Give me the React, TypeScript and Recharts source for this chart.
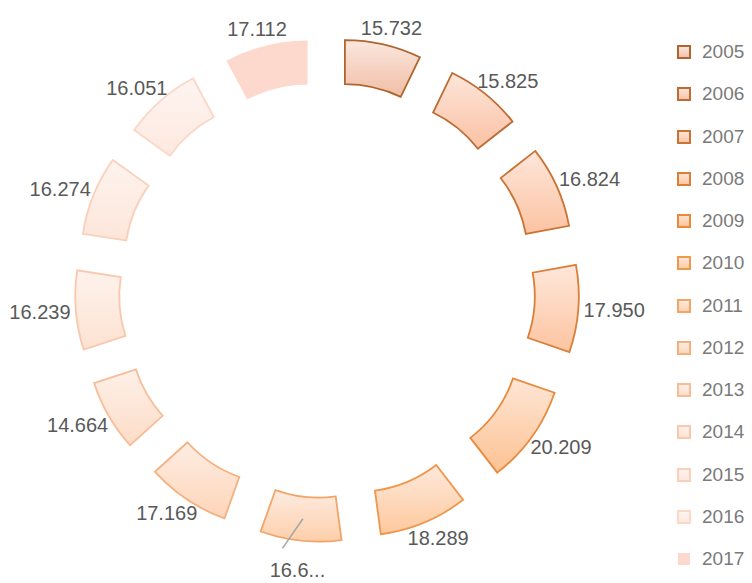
import React from "react";
import { PieChart, Pie, Cell, Sector, Legend } from "recharts";

const years = ["2005", "2006", "2007", "2008", "2009", "2010", "2011", "2012", "2013", "2014", "2015", "2016", "2017"];
const values = [15.732, 15.825, 16.824, 17.95, 20.209, 18.289, 16.65, 17.169, 14.664, 16.239, 16.274, 16.051, 17.112];
// label text that Excel cut short
const shortLabels: Record<number, string> = { 6: "16.6..." };

const strokes = ["#b0652e", "#bd6c33", "#c97434", "#d97f38", "#e8893c", "#f0974e", "#f3a468", "#f5b080", "#f7bd98", "#f9c8ad", "#f9d0ba", "#fad7c6", "none"];
const topFills = ["#fbe7de", "#fde6da", "#fee6da", "#fee7da", "#fee6d6", "#fee9dc", "#feebe0", "#feede4", "#fef0e8", "#fef2ec", "#fef3ee", "#fef4f0", "#fcd9cc"];
const bottomFills = ["#f0bea6", "#fac1a3", "#fcc3a2", "#fdc4a0", "#fdc293", "#fdc99d", "#fdcfab", "#fdd5b8", "#fddcc6", "#fde2d2", "#fde6da", "#fde9e0", "#fcd9cc"];

const data = years.map((y, i) => ({ name: y, value: values[i] }));

const CX = 322;
const CY = 285;
const INNER = 128;
const OUTER = 172;
const EXPLODE = 80;
const RAD = Math.PI / 180;

const ExplodedSector = (props: any) => {
  const { cx, cy, midAngle } = props;
  const dx = EXPLODE * Math.cos(-midAngle * RAD);
  const dy = EXPLODE * Math.sin(-midAngle * RAD);
  return <Sector {...props} cx={cx + dx} cy={cy + dy} />;
};

const renderLabel = (props: any) => {
  const { cx, cy, midAngle, outerRadius, index } = props;
  const short = shortLabels[index] !== undefined;
  const ux = Math.cos(-midAngle * RAD);
  const uy = Math.sin(-midAngle * RAD);
  const text = shortLabels[index] ?? values[index].toFixed(3);
  let x: number;
  let y: number;
  if (short) {
    const r = outerRadius + EXPLODE + 30;
    x = cx + r * ux;
    y = cy + r * uy;
  } else {
    // put the text box just outside the slice edge
    const edge = outerRadius + EXPLODE + 5;
    x = cx + edge * ux + ux * 31;
    y = cy + edge * uy + uy * 12;
  }
  const rm = (INNER + OUTER) / 2 + EXPLODE;
  const mx = cx + rm * ux;
  const my = cy + rm * uy;
  return (
    <g>
      {short && <line x1={mx} y1={my} x2={x - 15} y2={y - 22} stroke="#a6a6a6" strokeWidth={1.5} />}
      <text
        x={x}
        y={y}
        textAnchor="middle"
        dominantBaseline="central"
        fill="#595959"
        fontSize={20}
        fontFamily="'Liberation Sans', Arial, sans-serif"
      >
        {text}
      </text>
    </g>
  );
};

const renderLegend = () => (
  <div style={{ fontFamily: "'Liberation Sans', Arial, sans-serif", fontSize: 19, color: "#7a7a7a" }}>
    {years.map((y, i) => (
      <div key={y} style={{ height: 42.25, display: "flex", alignItems: "center" }}>
        <svg width={14} height={14} style={{ marginRight: 11 }}>
          <rect
            x={1}
            y={1}
            width={12}
            height={12}
            fill={`url(#grad${i})`}
            stroke={strokes[i]}
            strokeWidth={strokes[i] === "none" ? 0 : 2}
          />
        </svg>
        <span>{y}</span>
      </div>
    ))}
  </div>
);

export default function App() {
  return (
    <div style={{ position: "absolute", left: 0, top: 0, background: "#fff" }}>
      <PieChart width={752} height={583}>
        <defs>
          {years.map((y, i) => (
            <linearGradient key={y} id={`grad${i}`} x1="0" y1="0" x2="0" y2="1">
              <stop offset="0%" stopColor={topFills[i]} />
              <stop offset="100%" stopColor={bottomFills[i]} />
            </linearGradient>
          ))}
        </defs>
        <Pie
          data={data}
          dataKey="value"
          nameKey="name"
          cx={CX}
          cy={CY}
          innerRadius={INNER}
          outerRadius={OUTER}
          startAngle={90}
          endAngle={-270}
          shape={ExplodedSector}
          label={renderLabel}
          labelLine={false}
          isAnimationActive={false}
        >
          {data.map((d, i) => (
            <Cell
              key={d.name}
              fill={`url(#grad${i})`}
              stroke={strokes[i]}
              strokeWidth={strokes[i] === "none" ? 0 : 1.8}
            />
          ))}
        </Pie>
        <Legend
          layout="vertical"
          content={renderLegend}
          wrapperStyle={{ left: 677, top: 31, width: 75 }}
        />
      </PieChart>
    </div>
  );
}
